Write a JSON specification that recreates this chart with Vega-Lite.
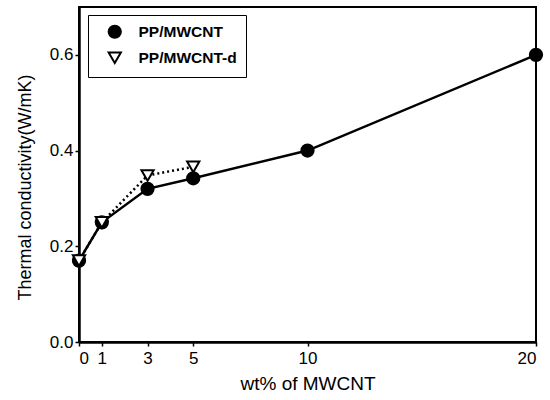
{
  "$schema": "https://vega.github.io/schema/vega-lite/v6.json",
  "width": 457,
  "height": 335,
  "autosize": "none",
  "padding": {"left": 79, "top": 7, "right": 14, "bottom": 58},
  "background": "white",
  "config": {
    "font": "Liberation Sans",
    "view": {"stroke": "black", "strokeWidth": 2}
  },
  "data": {
    "values": [
      {"wt": 0, "k": 0.17, "series": "PP/MWCNT"},
      {"wt": 1, "k": 0.25, "series": "PP/MWCNT"},
      {"wt": 3, "k": 0.32, "series": "PP/MWCNT"},
      {"wt": 5, "k": 0.342, "series": "PP/MWCNT"},
      {"wt": 10, "k": 0.40, "series": "PP/MWCNT"},
      {"wt": 20, "k": 0.60, "series": "PP/MWCNT"},
      {"wt": 0, "k": 0.17, "series": "PP/MWCNT-d"},
      {"wt": 1, "k": 0.25, "series": "PP/MWCNT-d"},
      {"wt": 3, "k": 0.348, "series": "PP/MWCNT-d"},
      {"wt": 5, "k": 0.366, "series": "PP/MWCNT-d"}
    ]
  },
  "encoding": {
    "x": {
      "field": "wt", "type": "quantitative",
      "scale": {"domain": [0, 20], "nice": false},
      "axis": {
        "values": [0, 1, 3, 5, 10, 20], "title": "wt% of MWCNT", "grid": false,
        "domainColor": "black", "domainWidth": 2.5, "tickColor": "black", "tickSize": 4, "tickWidth": 1.5,
        "labelFontSize": 17, "labelColor": "black", "labelPadding": 4,
        "titleFontSize": 19, "titleFontWeight": "normal", "titleColor": "black", "titlePadding": 8
      }
    },
    "y": {
      "field": "k", "type": "quantitative",
      "scale": {"domain": [0, 0.7], "nice": false},
      "axis": {
        "values": [0, 0.2, 0.4, 0.6], "format": ".1f", "title": "Thermal conductivity(W/mK)", "grid": false,
        "domainColor": "black", "domainWidth": 2.5, "tickColor": "black", "tickSize": 4, "tickWidth": 1.5,
        "labelFontSize": 17, "labelColor": "black", "labelPadding": 2,
        "titleFontSize": 18, "titleFontWeight": "normal", "titleColor": "black", "titlePadding": 15, "titleY": 180
      }
    }
  },
  "layer": [
    {
      "transform": [{"filter": "datum.series === 'PP/MWCNT'"}],
      "mark": {"type": "line", "color": "black", "strokeWidth": 2.5},
      "encoding": {}
    },
    {
      "transform": [{"filter": "datum.series === 'PP/MWCNT-d'"}],
      "mark": {"type": "line", "color": "black", "strokeWidth": 2.5, "strokeDash": [2, 3]},
      "encoding": {}
    },
    {
      "mark": {"type": "point", "filled": false, "stroke": "black", "strokeWidth": 2, "size": 150, "opacity": 1},
      "encoding": {
        "shape": {
          "field": "series", "type": "nominal",
          "scale": {"domain": ["PP/MWCNT", "PP/MWCNT-d"], "range": ["circle", "triangle-down"]},
          "legend": {
            "title": null, "orient": "none", "legendX": 9, "legendY": 8,
            "strokeColor": "black", "fillColor": "white", "padding": 9,
            "labelFontSize": 15.5, "labelFontWeight": "bold", "labelColor": "black", "labelOffset": 16,
            "symbolSize": 150, "symbolStrokeWidth": 2, "rowPadding": 6, "symbolOffset": 10,
            "encode": {"symbols": {"update": {"stroke": {"value": "black"}, "strokeWidth": {"value": 2}, "opacity": {"value": 1}}}}
          }
        },
        "fill": {
          "field": "series", "type": "nominal",
          "scale": {"domain": ["PP/MWCNT", "PP/MWCNT-d"], "range": ["black", "white"]},
          "legend": {
            "title": null, "orient": "none", "legendX": 9, "legendY": 8,
            "strokeColor": "black", "fillColor": "white", "padding": 9,
            "labelFontSize": 15.5, "labelFontWeight": "bold", "labelColor": "black", "labelOffset": 16,
            "symbolSize": 150, "symbolStrokeWidth": 2, "rowPadding": 6, "symbolOffset": 10,
            "encode": {"symbols": {"update": {"stroke": {"value": "black"}, "strokeWidth": {"value": 2}, "opacity": {"value": 1}}}}
          }
        }
      }
    }
  ]
}
